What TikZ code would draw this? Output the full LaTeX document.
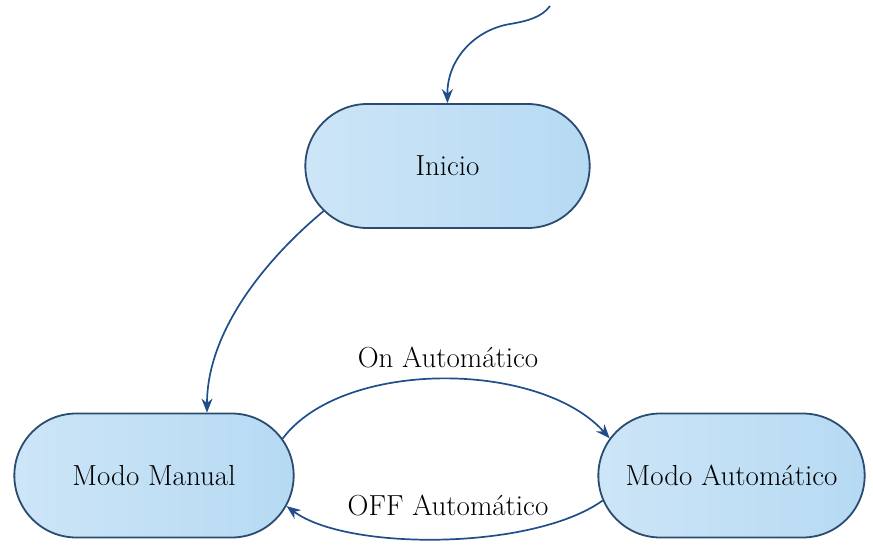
\documentclass[tikz,border=0pt]{standalone}
\usepackage{fontspec}
\usetikzlibrary{shapes.misc,arrows.meta}
\definecolor{edgeblue}{HTML}{1F4E8A}
\definecolor{rimblue}{HTML}{2B4C70}
\definecolor{fillL}{HTML}{CDE5F7}
\definecolor{fillR}{HTML}{B6DAF3}
\tikzset{
  state/.style={rounded rectangle, draw=rimblue, line width=1.8pt,
    left color=fillL, right color=fillR, minimum height=124pt,
    font=\fontsize{29}{34}\selectfont},
  trans/.style={draw=edgeblue, line width=1.7pt,
    -{Stealth[length=14pt,width=11pt]}},
  lbl/.style={font=\fontsize{29}{34}\selectfont}
}
\begin{document}
\begin{tikzpicture}[x=1pt,y=-1pt]
\useasboundingbox (0,0) rectangle (873,544);
% states
\node[state, minimum width=291pt] (ini) at (447.5,166) {Inicio};
\node[state, minimum width=286pt] (mm) at (154,475.5) {Modo Manual};
\node[state, minimum width=273pt] (ma) at (731.5,475.5) {Modo Automático};
% entry arrow
\coordinate (entry) at (550,6);
\draw[trans] (entry) .. controls (542,17) and (528,21) .. (510,24)
  .. controls (474,30) and (447,60) .. (ini.north);
% transitions
\draw[trans] (ini.200) .. controls +(-60,50) and +(0,-80) .. ([xshift=53pt]mm.north);
\draw[trans] (mm.16) .. controls +(60,-80) and +(-70,-78) .. (ma.163);
\draw[trans] (ma.191.5) .. controls +(-70,50) and +(60,45) .. (mm.-13.7);
% labels
\node[lbl] (lon) at (448,357) {On Automático};
\node[lbl] (loff) at (448,505) {OFF Automático};
\end{tikzpicture}
\end{document}
